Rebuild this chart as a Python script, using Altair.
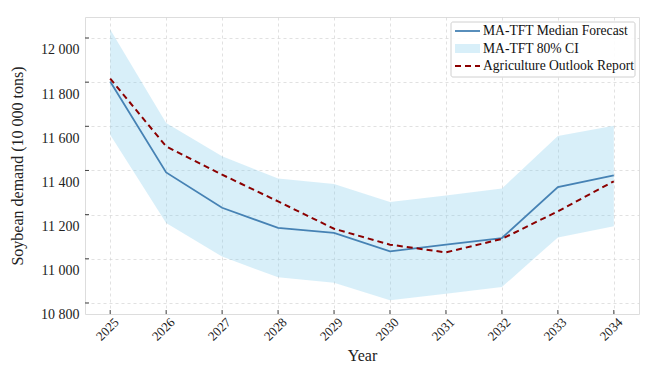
import altair as alt
import pandas as pd

years = [2025, 2026, 2027, 2028, 2029, 2030, 2031, 2032, 2033, 2034]
median = [11803, 11391, 11231, 11140, 11117, 11034, 11064, 11094, 11325, 11378]
report = [11816, 11509, 11381, 11260, 11136, 11064, 11029, 11090, 11215, 11351]
ci_low = [11562, 11162, 11010, 10916, 10891, 10812, 10842, 10872, 11097, 11147]
ci_high = [12038, 11615, 11464, 11364, 11339, 11257, 11287, 11318, 11556, 11603]
y_ticks = [10800, 11000, 11200, 11400, 11600, 11800, 12000]
legend_labels = ["MA-TFT Median Forecast", "MA-TFT 80% CI", "Agriculture Outlook Report"]

W, H = 554, 297
FONT = "Liberation Serif"

df = pd.DataFrame({"year": years, "median": median, "report": report,
                   "lo": ci_low, "hi": ci_high})
tick_df = pd.DataFrame({"v": y_ticks})
year_df = pd.DataFrame({"year": years})

xs = alt.Scale(domain=[2024.55, 2034.45], nice=False, zero=False)
ys = alt.Scale(domain=[10750, 12095], nice=False, zero=False)

x_axis = alt.Axis(values=years, format="d", labelAngle=-45, labelAlign="center",
                  labelBaseline="middle", labelPadding=15, labelOffset=-3, ticks=False,
                  grid=True, gridColor="#d4d4d4", gridDash=[3, 3], gridWidth=0.7,
                  title="Year", titleFontSize=16, titlePadding=4,
                  titleFont=FONT, labelFont=FONT, titleFontWeight="normal",
                  labelColor="#222", titleColor="#222",
                  labelFontSize=13, domain=False)
y_axis = alt.Axis(values=y_ticks, ticks=False, grid=True, gridColor="#d4d4d4",
                  gridDash=[3, 3], gridWidth=0.7,
                  labelExpr="replace(format(datum.value, ','), ',', ' ')",
                  labelOffset=12, labelPadding=6, labelFontSize=14,
                  titleFont=FONT, labelFont=FONT, titleFontWeight="normal",
                  labelColor="#222", titleColor="#222",
                  title="Soybean demand (10 000 tons)", titleFontSize=16,
                  titlePadding=15, domain=False)

base = alt.Chart(df)

band = base.mark_area(color="#87CEEB", opacity=0.32).encode(
    x=alt.X("year:Q", scale=xs, axis=x_axis),
    y=alt.Y("lo:Q", scale=ys, axis=y_axis),
    y2="hi:Q",
)
med_line = base.mark_line(color="#4682B4", strokeWidth=1.8).encode(
    x=alt.X("year:Q", scale=xs), y=alt.Y("median:Q", scale=ys))
rep_line = base.mark_line(color="#8B0000", strokeWidth=2, strokeDash=[6, 4]).encode(
    x=alt.X("year:Q", scale=xs), y=alt.Y("report:Q", scale=ys))

ytick_marks = alt.Chart(tick_df).mark_rule(color="#444", strokeWidth=1).encode(
    y=alt.Y("v:Q", scale=ys), x=alt.value(0), x2=alt.value(4))
xtick_marks = alt.Chart(year_df).mark_rule(color="#444", strokeWidth=1).encode(
    x=alt.X("year:Q", scale=xs), y=alt.value(H), y2=alt.value(H - 4))

# legend (manual)
one = pd.DataFrame({"k": [0]})
leg_box = alt.Chart(one).mark_rect(fill="white", stroke="#cccccc", strokeWidth=1,
                                   cornerRadius=2, opacity=0.9).encode(
    x=alt.value(366), x2=alt.value(550), y=alt.value(5), y2=alt.value(60))
leg_med = alt.Chart(one).mark_rule(color="#4682B4", strokeWidth=1.8).encode(
    x=alt.value(370), x2=alt.value(395), y=alt.value(14))
leg_ci = alt.Chart(one).mark_rect(fill="#87CEEB", opacity=0.32).encode(
    x=alt.value(370), x2=alt.value(395), y=alt.value(27), y2=alt.value(36))
leg_rep = alt.Chart(one).mark_rule(color="#8B0000", strokeWidth=2,
                                   strokeDash=[6, 4]).encode(
    x=alt.value(370), x2=alt.value(395), y=alt.value(49))
leg_df = pd.DataFrame({"label": legend_labels, "yy": [14, 32, 49]})
leg_text = alt.Chart(leg_df).mark_text(align="left", baseline="middle",
                                       font=FONT, fontSize=13.6, color="#111").encode(
    x=alt.value(398), y=alt.Y("yy:Q", scale=None), text="label:N")

chart = alt.layer(band, med_line, rep_line, ytick_marks, xtick_marks,
                  leg_box, leg_med, leg_ci, leg_rep, leg_text).properties(
    width=W, height=H,
    autosize=alt.AutoSizeParams(type="none"),
    padding={"left": 77, "top": 9, "right": 3, "bottom": 53},
).configure_view(stroke="#444", strokeWidth=1.3).configure(background="white")

chart.save("out.html", embed_options={"renderer": "svg", "actions": False})
